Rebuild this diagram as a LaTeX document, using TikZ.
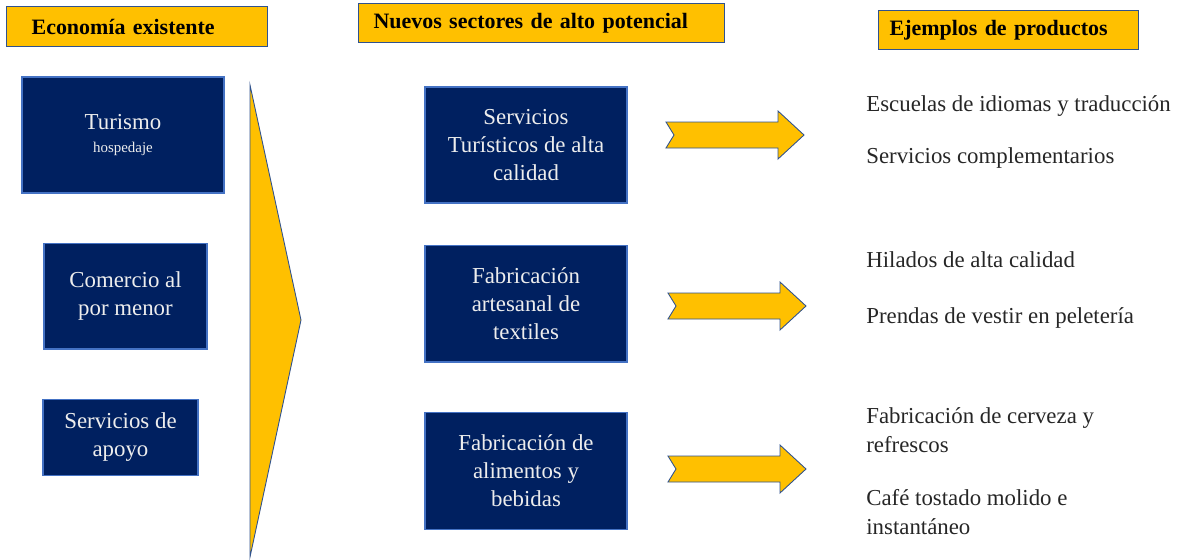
\documentclass[tikz,border=0pt]{standalone}
\usepackage{fontspec}
\setmainfont{Liberation Serif}
\usepackage{xcolor}
\usepackage{tikz}
\usetikzlibrary{positioning}
\definecolor{navy}{RGB}{0,32,96}
\definecolor{gold}{RGB}{255,192,0}
\definecolor{edgeblue}{RGB}{68,114,196}
\definecolor{lineblue}{RGB}{47,82,143}

\begin{document}
\begin{tikzpicture}[x=0.02cm, y=-0.02cm,
    every node/.style={font=\fontsize{13}{16}\selectfont},
    sector/.style={draw=edgeblue, fill=navy, text=white!93!black, align=center, inner sep=0pt, line width=0.6pt},
    header/.style={draw=lineblue, fill=gold, anchor=west, align=left, minimum height=0.79cm, line width=0.7pt, font=\fontsize{12.5}{15}\selectfont\bfseries},
    product/.style={anchor=base west, align=left, inner sep=0pt, text=black!85},
    goldarrow/.pic={\filldraw[fill=gold, draw=lineblue, line width=0.5pt] (0,-13) -- (112,-13) -- (112,-24) -- (138,0) -- (112,24) -- (112,13) -- (0,13) -- (8,0) -- cycle;}]
    \useasboundingbox (0,0) rectangle (1178,559);
    % column headers
    \node (hexist) [header, inner xsep=0.5cm, text width=4.22cm] at (6,26.5) {Economía existente};
    \node (hnew) [header, inner xsep=0.3cm, text width=6.72cm] at (358,23) {Nuevos sectores de alto potencial};
    \node (hprod) [header, inner xsep=0.22cm, text width=4.76cm] at (878,30) {Ejemplos de productos};
    % existing economy
    \node (tur) [sector, minimum width=4.04cm, minimum height=2.32cm] at (123,135) {Turismo\\[-3pt]{\fontsize{8.5}{10}\selectfont hospedaje}};
    \node (com) [sector, below=0.98cm of tur, xshift=0.05cm, minimum width=3.26cm, minimum height=2.12cm] {Comercio al\\por menor};
    \node (apo) [sector, below=0.98cm of com, xshift=-0.1cm, minimum width=3.1cm, minimum height=1.52cm] {Servicios de\\apoyo};
    \filldraw[fill=gold, draw=lineblue, line width=0.5pt] (250,85) -- (301,320) -- (250,557) -- cycle;
    % new sectors
    \node (stur) [sector, minimum width=4.04cm, minimum height=2.32cm] at (526,145) {Servicios\\Turísticos de alta\\calidad};
    \node (stex) [sector, below=0.82cm of stur, minimum width=4.04cm, minimum height=2.34cm] {Fabricación\\artesanal de\\textiles};
    \node (sali) [sector, below=0.98cm of stex, minimum width=4.04cm, minimum height=2.34cm] {Fabricación de\\alimentos y\\bebidas};
    \pic at (666,135) {goldarrow};
    \pic at (668,306) {goldarrow};
    \pic at (668,469) {goldarrow};
    % products
    \node (p1) [product] at (866,111) {Escuelas de idiomas y traducción};
    \node (p2) [product] at (866,163) {Servicios complementarios};
    \node (p3) [product] at (866,267) {Hilados de alta calidad};
    \node (p4) [product] at (866,323) {Prendas de vestir en peletería};
    \node (p5) [product] at (866,452) {Fabricación de cerveza y\\refrescos};
    \node (p6) [product] at (866,534) {Café tostado molido e\\instantáneo};
\end{tikzpicture}
\end{document}
